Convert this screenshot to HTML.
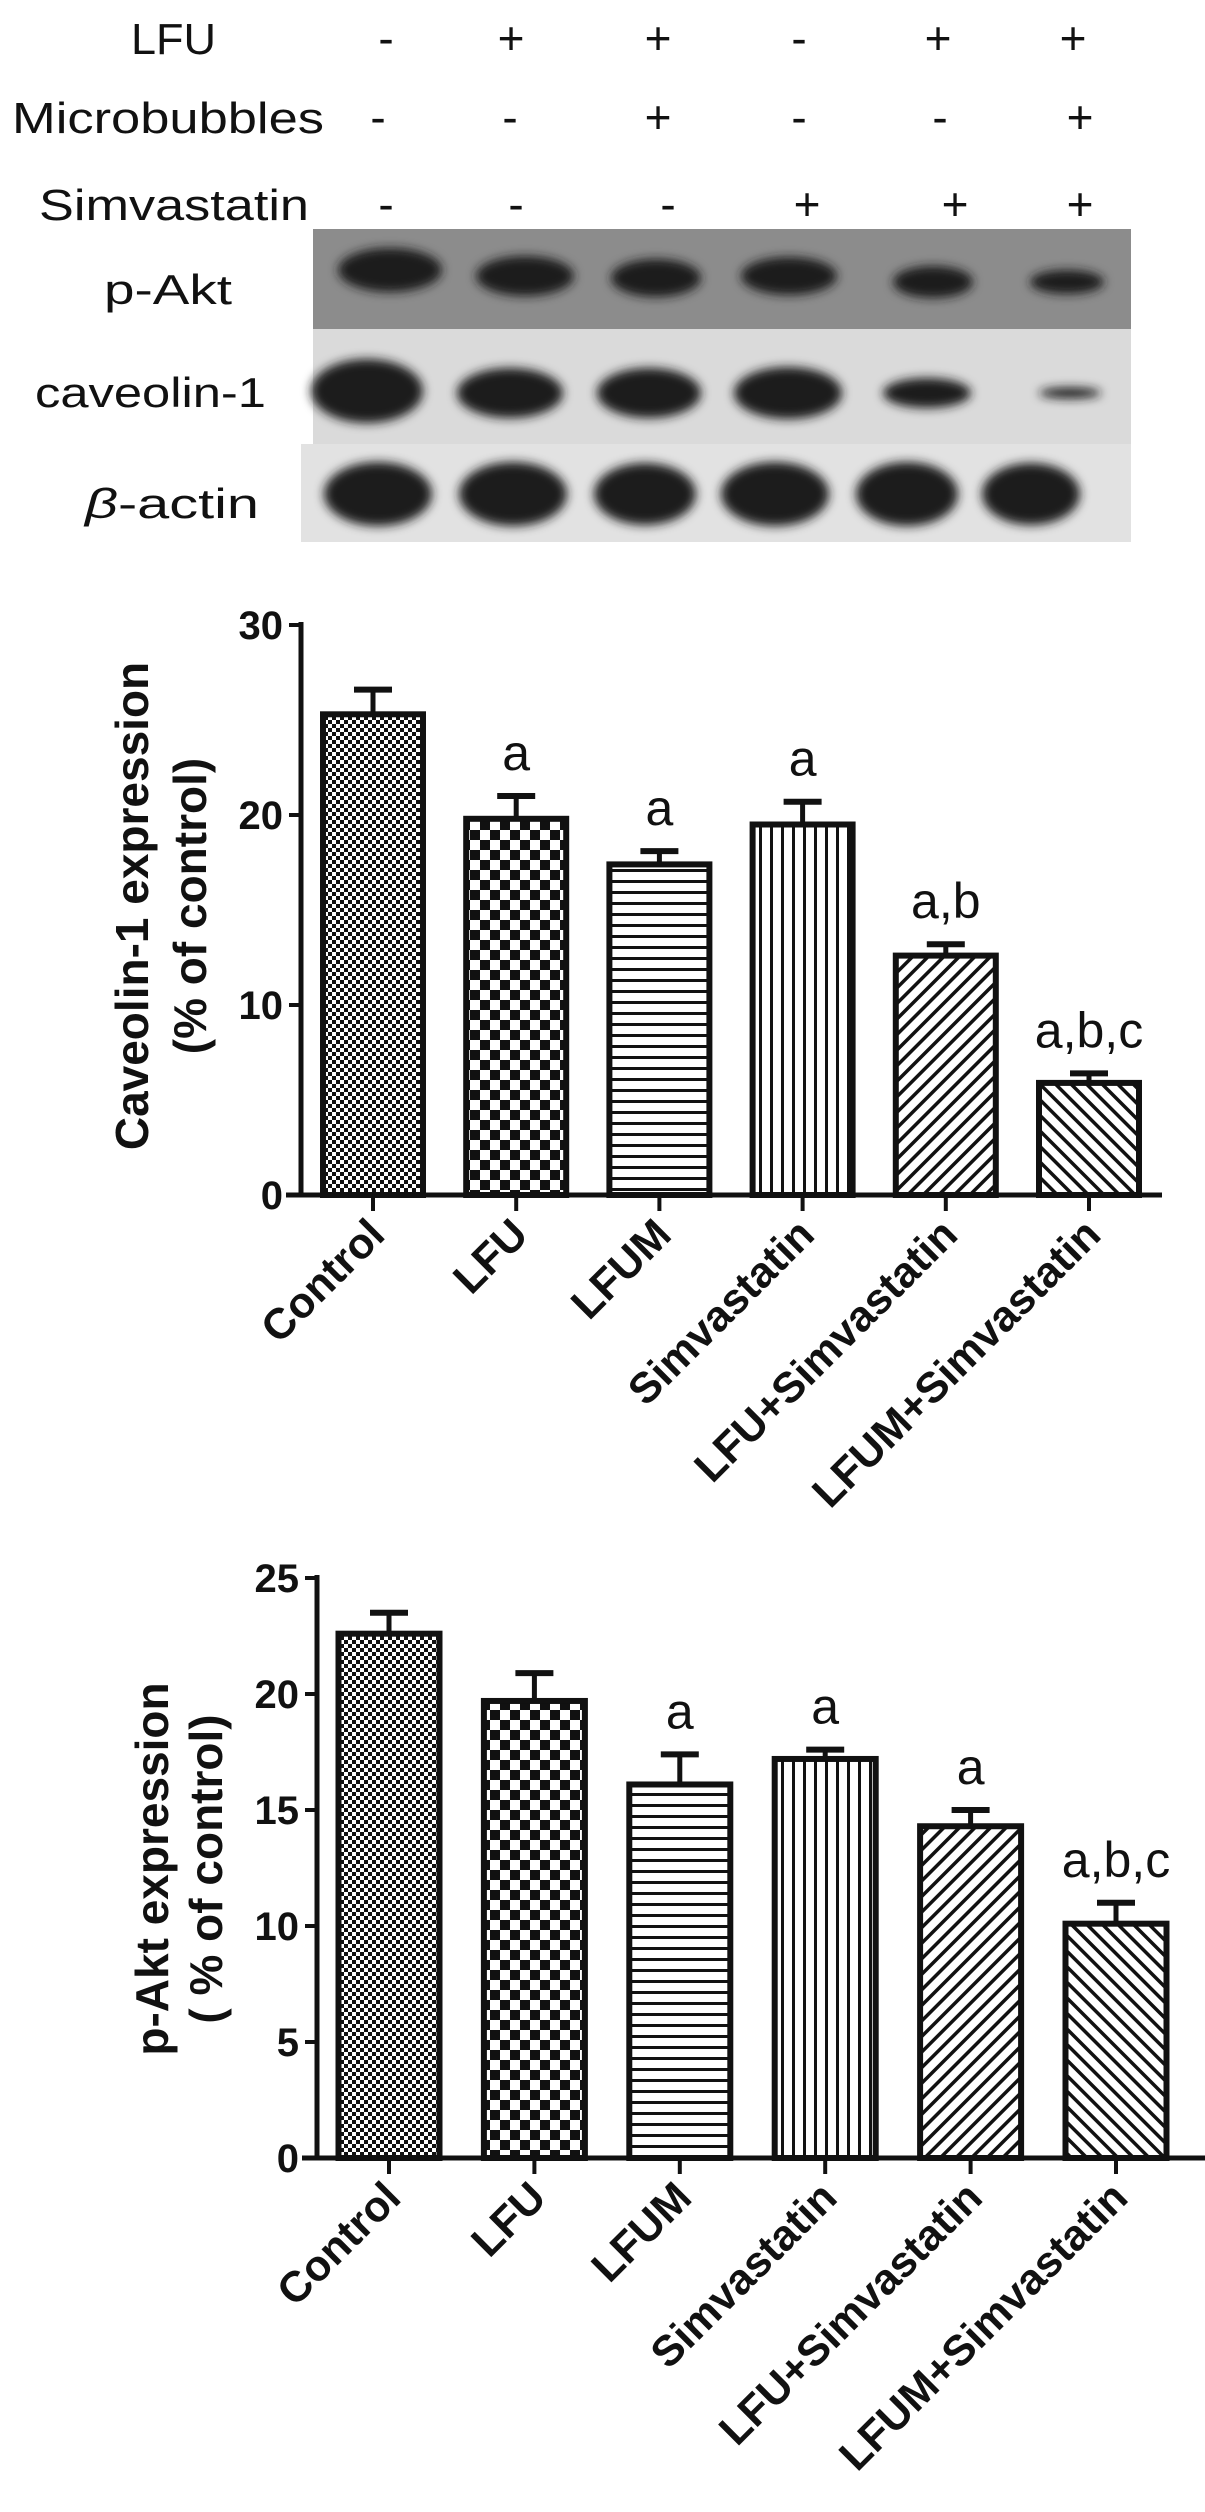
<!DOCTYPE html>
<html><head><meta charset="utf-8"><style>
html,body{margin:0;padding:0;background:#fff;}
svg{display:block;}
text{font-family:"Liberation Sans",Arial,sans-serif;}
</style></head><body>
<svg id="fig" width="1205" height="2512" viewBox="0 0 1205 2512" xmlns="http://www.w3.org/2000/svg">
<defs>
<pattern id="pFine" width="8" height="8" patternUnits="userSpaceOnUse"><rect width="8" height="8" fill="#fff"/><rect width="4" height="4" fill="#111"/><rect x="4" y="4" width="4" height="4" fill="#111"/></pattern>
<pattern id="pCoarse" width="20" height="20" patternUnits="userSpaceOnUse"><rect width="20" height="20" fill="#fff"/><rect width="10" height="10" fill="#111"/><rect x="10" y="10" width="10" height="10" fill="#111"/></pattern>
<pattern id="pHoriz" width="10" height="11" patternUnits="userSpaceOnUse"><rect width="10" height="11" fill="#fff"/><rect y="0" width="10" height="3" fill="#111"/></pattern>
<pattern id="pVert" width="11" height="10" patternUnits="userSpaceOnUse"><rect width="11" height="10" fill="#fff"/><rect x="0" width="3" height="10" fill="#111"/></pattern>
<pattern id="pDiag1" width="11" height="11" patternUnits="userSpaceOnUse" patternTransform="rotate(45)"><rect width="11" height="11" fill="#fff"/><rect width="3.5" height="11" fill="#111"/></pattern>
<pattern id="pDiag2" width="11" height="11" patternUnits="userSpaceOnUse" patternTransform="rotate(-45)"><rect width="11" height="11" fill="#fff"/><rect width="3.5" height="11" fill="#111"/></pattern>
<filter id="blur" x="-30%" y="-50%" width="160%" height="200%"><feGaussianBlur stdDeviation="5"/></filter>
</defs>

<g font-size="44" fill="#111">
<text x="131" y="54" textLength="85" lengthAdjust="spacingAndGlyphs">LFU</text>
<text x="12" y="133" textLength="312" lengthAdjust="spacingAndGlyphs">Microbubbles</text>
<text x="39" y="220" textLength="270" lengthAdjust="spacingAndGlyphs">Simvastatin</text>
</g>
<g id="signs"></g>

<g>
<rect x="313" y="229" width="818" height="100" fill="#8c8c8c"/>
<rect x="313" y="329" width="818" height="115" fill="#dadada"/>
<rect x="301" y="444" width="830" height="98" fill="#e2e2e2"/>
<g id="bands" filter="url(#blur)"></g>
<text x="104" y="304" font-size="42" textLength="128" lengthAdjust="spacingAndGlyphs" fill="#111">p-Akt</text>
<text x="35" y="407" font-size="42" textLength="231" lengthAdjust="spacingAndGlyphs" fill="#111">caveolin-1</text>
<text x="85" y="518" font-size="42" textLength="174" lengthAdjust="spacingAndGlyphs" fill="#111"><tspan font-style="italic">β</tspan>-actin</text>
</g>

<g id="chart1"></g>
<g id="chart2"></g>
</svg>
<script>
const NS='http://www.w3.org/2000/svg';
const categories=['Control','LFU','LFUM','Simvastatin','LFU+Simvastatin','LFUM+Simvastatin'];
const patterns=['pFine','pCoarse','pHoriz','pVert','pDiag1','pDiag2'];
const lfuSigns=['-','+','+','-','+','+'];
const mbSigns=['-','-','+','-','-','+'];
const simSigns=['-','-','-','+','+','+'];
const cavValues=[25.3,19.8,17.4,19.5,12.6,5.9];
const cavErrors=[1.3,1.2,0.7,1.2,0.6,0.5];
const cavLetters=['','a','a','a','a,b','a,b,c'];
const cavTicks=[0,10,20,30];
const aktValues=[22.6,19.7,16.1,17.2,14.3,10.1];
const aktErrors=[0.9,1.2,1.3,0.4,0.7,0.9];
const aktLetters=['','','a','a','a','a,b,c'];
const aktTicks=[0,5,10,15,20,25];
const aktBandW=[104,98,90,96,80,74], aktBandH=[44,40,38,38,32,24];
const cavBandW=[112,106,104,108,88,62], cavBandH=[64,50,50,52,30,11];
const actBandW=[108,108,102,108,102,98], actBandH=[64,64,62,64,64,62];

function el(tag,attrs,parent){const e=document.createElementNS(NS,tag);for(const k in attrs)e.setAttribute(k,attrs[k]);parent.appendChild(e);return e;}

const sg=document.getElementById('signs');
const signRows=[[lfuSigns,[386,511,658,799,938,1073],54],[mbSigns,[378,510,658,799,940,1080],133],[simSigns,[386,516,668,807,955,1080],220]];
signRows.forEach((r,ri)=>{r[0].forEach((s,i)=>{
  const t=el('text',{x:r[1][i],y:r[2],'text-anchor':'middle','font-size':46,fill:'#111'},sg);
  
  
  t.textContent=s;});});

const bg=document.getElementById('bands');
const bandRows=[[[390,525,656,789,933,1067],[270,276,278,276,282,282],aktBandW,aktBandH],[[367,510,649,788,927,1070],[391,393,393,393,393,393],cavBandW,cavBandH],[[378,513,645,775,907,1031],[494,494,494,494,494,494],actBandW,actBandH]];
bandRows.forEach(r=>{for(let i=0;i<6;i++){
  const e=el('ellipse',{cx:r[0][i],cy:r[1][i],rx:r[2][i]/2,ry:r[3][i]/2,fill:'#1a1a1a'},bg);
  
  }});

function chart(g,cfg){
  const y=v=>cfg.y0-(v-cfg.vmin)*(cfg.y0-cfg.ytop)/(cfg.vmax-cfg.vmin);
  const xc=i=>cfg.x0+cfg.step*i;
  const ya=el('line',{x1:cfg.ax,y1:y(cfg.vmax)-3,x2:cfg.ax,y2:cfg.y0,stroke:'#111','stroke-width':5},g);
  
  
  cfg.ticks.forEach(t=>{
    const tl=el('line',{x1:cfg.ax-12,y1:y(t),x2:cfg.ax,y2:y(t),stroke:'#111','stroke-width':4},g);
    
    
    const tx=el('text',{x:cfg.ax-18,y:y(t)+14,'text-anchor':'end','font-size':40,'font-weight':'bold',fill:'#111'},g);
    
    
    tx.textContent=t;});
  cfg.values.forEach((v,i)=>{
    const cx=xc(i), top=y(v), eb=y(v+cfg.errors[i]);
    const ln=el('line',{x1:cx,y1:top,x2:cx,y2:eb,stroke:'#111','stroke-width':5},g);
    
    
    const cap=el('line',{x1:cx-19,y1:eb,x2:cx+19,y2:eb,stroke:'#111','stroke-width':6},g);
    
    
    const b=el('rect',{x:cx-cfg.bw/2,y:top,width:cfg.bw,height:cfg.y0-top,fill:'url(#'+patterns[i]+')',stroke:'#111','stroke-width':6},g);
    
    
    const tk=el('line',{x1:cx,y1:cfg.y0,x2:cx,y2:cfg.y0+16,stroke:'#111','stroke-width':4},g);
    
    
    if(cfg.letters[i]){
      const a=el('text',{x:cx,y:eb-cfg.letterGap,'text-anchor':'middle','font-size':50,fill:'#111'},g);
      
      
      a.textContent=cfg.letters[i];}
    const lx=cx+14, ly=cfg.y0+42;
    const xl=el('text',{x:lx,y:ly,'text-anchor':'end','font-size':43,'font-weight':'bold',fill:'#111',transform:'rotate(-45 '+lx+' '+ly+')'},g);
    
    
    xl.textContent=categories[i];
  });
  const xa=el('line',{x1:cfg.ax-15,y1:cfg.y0,x2:cfg.xend,y2:cfg.y0,stroke:'#111','stroke-width':5},g);
  
  
  cfg.title.forEach((t,k)=>{
    const tx=cfg.titleX[k], ty=cfg.titleY;
    const tt=el('text',{x:tx,y:ty,'text-anchor':'middle','font-size':46,'font-weight':'bold',fill:'#111',transform:'rotate(-90 '+tx+' '+ty+')'},g);
    
    
    tt.textContent=t;});
}
chart(document.getElementById('chart1'),{values:cavValues,errors:cavErrors,letters:cavLetters,ticks:cavTicks,vmin:0,vmax:30,y0:1195,ytop:625,ax:301,xend:1162,x0:373,step:143.2,bw:100,letterGap:26,title:['Caveolin-1 expression','(% of control)'],titleX:[148,206],titleY:906});
chart(document.getElementById('chart2'),{values:aktValues,errors:aktErrors,letters:aktLetters,ticks:aktTicks,vmin:0,vmax:25,y0:2158,ytop:1578,ax:317,xend:1205,x0:389,step:145.4,bw:101,letterGap:26,title:['p-Akt expression','( % of control)'],titleX:[168,222],titleY:1869});
</script>
</body></html>
